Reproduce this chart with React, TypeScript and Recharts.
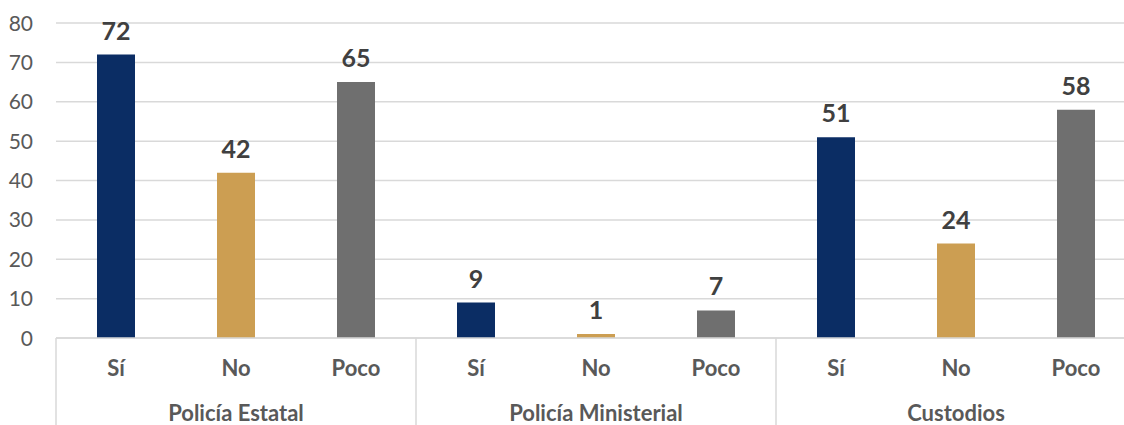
import { BarChart, Bar, XAxis, YAxis, CartesianGrid, LabelList, Cell } from 'recharts';

const groups = ['Policía Estatal', 'Policía Ministerial', 'Custodios'];
const answers = ['Sí', 'No', 'Poco'];
const estatal = [72, 42, 65];
const ministerial = [9, 1, 7];
const custodios = [51, 24, 58];
const yTicks = [0, 10, 20, 30, 40, 50, 60, 70, 80];
const colors = ['#0b2d64', '#cc9e52', '#6f6f6f'];

const values = [estatal, ministerial, custodios];

const chartData = groups.flatMap((g, gi) =>
  answers.map((a, ai) => ({ label: a, group: g, value: values[gi][ai], color: colors[ai] }))
);

// layout numbers
const CHART_W = 1140;
const CHART_H = 425;
const Y_AXIS_W = 56;
const X_AXIS_H = 87;
const MARGIN_TOP = 23;
const MARGIN_RIGHT = 4;
const PLOT_BOTTOM = CHART_H - X_AXIS_H;
const BAND = (CHART_W - Y_AXIS_W - MARGIN_RIGHT) / chartData.length;

const CategoryTick = (props: any) => {
  const { x, index, payload } = props;
  const i = index ?? payload?.index ?? 0;
  const item = chartData[i];
  return (
    <g>
      <text x={x} y={PLOT_BOTTOM + 38} textAnchor="middle" fontSize={22} fontWeight={700} fill="#595959">
        {item.label}
      </text>
      {i % 3 === 1 && (
        <text x={x} y={PLOT_BOTTOM + 83} textAnchor="middle" fontSize={22} fontWeight={700} fill="#595959">
          {item.group}
        </text>
      )}
      {i % 3 === 0 && (
        <line x1={x - BAND / 2} x2={x - BAND / 2} y1={PLOT_BOTTOM} y2={CHART_H} stroke="#d9d9d9" strokeWidth={1.5} />
      )}
      {i === chartData.length - 1 && (
        <line x1={x + BAND / 2} x2={x + BAND / 2} y1={PLOT_BOTTOM} y2={CHART_H} stroke="#d9d9d9" strokeWidth={1.5} />
      )}
    </g>
  );
};

const ValueTick = (props: any) => {
  const { y, payload } = props;
  return (
    <text x={Y_AXIS_W - 23} y={y} dy="0.36em" textAnchor="end" fontSize={21} fill="#595959">
      {payload.value}
    </text>
  );
};

const App = () => {
  return (
    <div
      style={{
        position: 'absolute',
        left: 0,
        top: 0,
        width: 1124,
        height: 425,
        overflow: 'hidden',
        background: '#fff',
        fontFamily: 'Lato, sans-serif',
      }}
    >
      <BarChart
        width={CHART_W}
        height={CHART_H}
        data={chartData}
        margin={{ top: MARGIN_TOP, right: MARGIN_RIGHT, bottom: 0, left: 0 }}
        style={{ fontFamily: 'Lato, sans-serif' }}
      >
        <CartesianGrid vertical={false} stroke="#d9d9d9" strokeWidth={1.5} />
        <XAxis
          dataKey="label"
          height={X_AXIS_H}
          interval={0}
          tickLine={false}
          axisLine={{ stroke: '#d9d9d9', strokeWidth: 1.5 }}
          tick={<CategoryTick />}
        />
        <YAxis
          width={Y_AXIS_W}
          domain={[0, 80]}
          ticks={yTicks}
          axisLine={false}
          tickLine={false}
          tick={<ValueTick />}
        />
        <Bar dataKey="value" barSize={38} isAnimationActive={false}>
          {chartData.map((d, i) => (
            <Cell key={i} fill={d.color} />
          ))}
          <LabelList
            dataKey="value"
            position="top"
            offset={15}
            style={{ fontSize: 25, fontWeight: 700, fill: '#404040' }}
          />
        </Bar>
      </BarChart>
    </div>
  );
};

export default App;
